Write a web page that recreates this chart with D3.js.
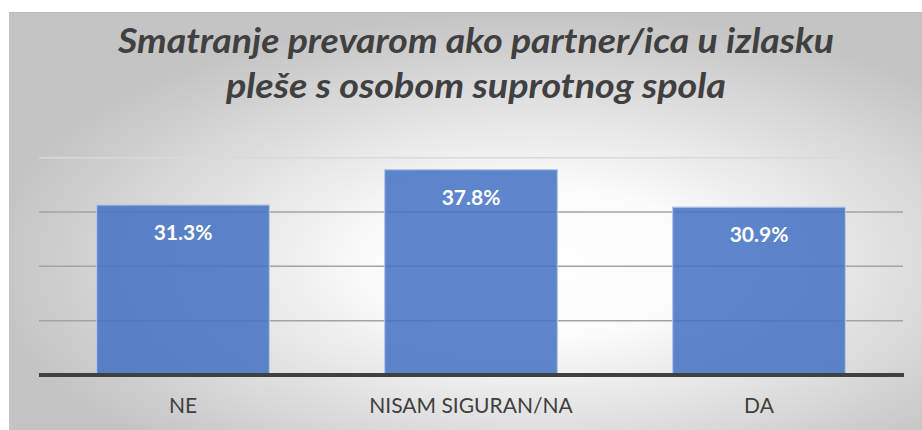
<!DOCTYPE html>
<html>
<head>
<meta charset="utf-8">
<script src="https://cdn.jsdelivr.net/npm/d3@7"></script>
<style>
  html, body { margin: 0; padding: 0; background: #ffffff; }
  svg { display: block; }
</style>
</head>
<body>
<div id="chart"></div>
<script>
var titleLines = ["Smatranje prevarom ako partner/ica u izlasku", "pleše s osobom suprotnog spola"];
var categories = ["NE", "NISAM SIGURAN/NA", "DA"];
var values = [31.3, 37.8, 30.9];
var yTicks = [0, 10, 20, 30, 40];

function drawChart() {
  var width = 922;
  var height = 430;
  var margin = { top: 157.7, right: 19, bottom: 55, left: 39 };

  var svg = d3.select("#chart")
    .append("svg")
    .attr("width", width)
    .attr("height", height);

  var defs = svg.append("defs");
  var grad = defs.append("radialGradient")
    .attr("id", "bg")
    .attr("cx", "58%").attr("cy", "60%").attr("r", "60%");
  grad.append("stop").attr("offset", "0%").attr("stop-color", "#ffffff");
  grad.append("stop").attr("offset", "30%").attr("stop-color", "#fbfbfb");
  grad.append("stop").attr("offset", "100%").attr("stop-color", "#c4c4c4");

  // chart panel
  svg.append("rect")
    .attr("x", 9).attr("y", 12)
    .attr("width", width - 9).attr("height", height - 12)
    .style("fill", "url(#bg)");
  svg.append("line")
    .attr("x1", 9).attr("x2", width)
    .attr("y1", 12.5).attr("y2", 12.5)
    .style("stroke", "#bdbdbd").style("stroke-width", 1);

  // title
  var titleWidths = [716, 500];
  svg.append("g").selectAll("text")
    .data(titleLines)
    .enter()
    .append("text")
    .attr("x", 476)
    .attr("y", function(d, i) { return 53 + i * 45; })
    .attr("text-anchor", "middle")
    .attr("textLength", function(d, i) { return titleWidths[i]; })
    .attr("lengthAdjust", "spacingAndGlyphs")
    .style("font-family", "Lato, 'Open Sans', sans-serif")
    .style("font-style", "italic")
    .style("font-weight", "bold")
    .style("font-size", "35px")
    .style("fill", "#404040")
    .text(function(d) { return d; });

  var xScale = d3.scaleBand()
    .domain(categories)
    .range([margin.left, width - margin.right])
    .paddingInner(0.4)
    .paddingOuter(0.2);

  var yScale = d3.scaleLinear()
    .domain([0, 40])
    .range([375, margin.top]);

  // gridlines
  svg.append("g").selectAll("line")
    .data(yTicks.slice(1))
    .enter()
    .append("line")
    .attr("x1", margin.left)
    .attr("x2", width - margin.right)
    .attr("y1", function(d) { return yScale(d); })
    .attr("y2", function(d) { return yScale(d); })
    .style("stroke", function(d) { return d === 40 ? "#d9d9d9" : "#a3a3a3"; })
    .style("stroke-width", 1.5);

  // bars
  svg.append("g").selectAll("rect")
    .data(values)
    .enter()
    .append("rect")
    .attr("x", function(d, i) { return xScale(categories[i]); })
    .attr("y", function(d) { return yScale(d); })
    .attr("width", xScale.bandwidth())
    .attr("height", function(d) { return yScale(0) - yScale(d); })
    .style("fill", "#4472c4")
    .style("fill-opacity", 0.86)
    .style("stroke", "#b4c7e7")
    .style("stroke-width", 1.2);

  // baseline
  svg.append("line")
    .attr("x1", margin.left)
    .attr("x2", width - margin.right + 1)
    .attr("y1", yScale(0))
    .attr("y2", yScale(0))
    .style("stroke", "#404040")
    .style("stroke-width", 4);

  // value labels
  svg.append("g").selectAll("text")
    .data(values)
    .enter()
    .append("text")
    .attr("x", function(d, i) { return xScale(categories[i]) + xScale.bandwidth() / 2; })
    .attr("y", function(d) { return yScale(d) + 35; })
    .attr("text-anchor", "middle")
    .style("font-family", "Lato, sans-serif")
    .style("font-weight", "bold")
    .style("font-size", "21px")
    .style("fill", "#ffffff")
    .text(function(d) { return d.toFixed(1) + "%"; });

  // category labels
  svg.append("g").selectAll("text")
    .data(categories)
    .enter()
    .append("text")
    .attr("x", function(d) { return xScale(d) + xScale.bandwidth() / 2; })
    .attr("y", 413)
    .attr("text-anchor", "middle")
    .style("font-family", "Lato, sans-serif")
    .style("font-size", "21px")
    .style("fill", "#404040")
    .text(function(d) { return d; });
}

window.onload = drawChart;
</script>
</body>
</html>
